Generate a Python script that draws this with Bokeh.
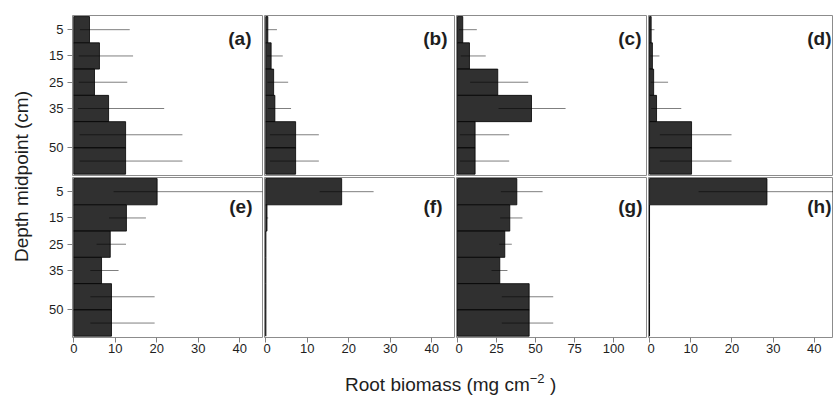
from math import pi
from bokeh.plotting import figure
from bokeh.models import Range1d, FixedTicker, Label, Div
from bokeh.layouts import gridplot, row, column
from bokeh.embed import file_html
from bokeh.resources import INLINE

# ---------------- data ----------------
depth = [5, 15, 25, 35, 45, 55]          # depth midpoints (cm)
layer = 10                                # layer thickness (cm)
y_ticks = [5, 15, 25, 35, 50]
x_ticks_std = [0, 10, 20, 30, 40]
x_ticks_wide = [0, 25, 50, 75, 100]
panel_names = ["(a)", "(b)", "(c)", "(d)", "(e)", "(f)", "(g)", "(h)"]

a_mean = [3.8, 6.2, 5.0, 8.4, 12.5, 12.5]
a_lo = [1.5, 1.2, 1.2, 1.0, 1.4, 1.4]
a_hi = [13.5, 14.3, 12.9, 21.8, 26.2, 26.2]

b_mean = [0.5, 1.3, 1.9, 2.2, 7.2, 7.2]
b_lo = [0.1, 0.3, 0.4, 0.5, 1.0, 1.0]
b_hi = [2.7, 4.1, 5.4, 6.1, 12.8, 12.8]

c_mean = [3.4, 7.7, 25.8, 47.4, 11.3, 11.3]
c_lo = [1.0, 2.1, 8.1, 26.3, 1.5, 1.5]
c_hi = [12.4, 18.1, 45.3, 69.2, 33.1, 33.1]

d_mean = [0.4, 0.7, 1.0, 1.7, 10.2, 10.2]
d_lo = [0.1, 0.2, 0.3, 0.4, 2.5, 2.5]
d_hi = [1.2, 2.4, 4.5, 7.7, 19.9, 19.9]

e_mean = [20.1, 12.7, 8.8, 6.7, 9.1, 9.1]
e_lo = [9.6, 8.5, 5.5, 4.0, 4.0, 4.0]
e_hi = [52.0, 17.4, 12.6, 10.8, 19.5, 19.5]

f_mean = [18.3, 0.3, 0.0, 0.0, 0.0, 0.0]
f_lo = [13.0, 0.1, 0.0, 0.0, 0.0, 0.0]
f_hi = [26.0, 0.6, 0.0, 0.0, 0.0, 0.0]

g_mean = [38.0, 33.5, 30.3, 27.1, 45.9, 45.9]
g_lo = [27.8, 27.3, 26.7, 21.8, 28.4, 28.4]
g_hi = [54.5, 41.6, 34.8, 32.0, 61.3, 61.3]

h_mean = [28.5, 0.0, 0.0, 0.0, 0.0, 0.0]
h_lo = [11.9, 0.0, 0.0, 0.0, 0.0, 0.0]
h_hi = [60.0, 0.0, 0.0, 0.0, 0.0, 0.0]

# ---------------- styling ----------------
FONT = "Liberation Sans"
BAR = "#303030"
BORDER = "#8c8c8c"
TXT = "#1e1e1e"

col_frame_w = [190, 190, 190, 185]
col_xrange = [(-0.3, 45.5), (-0.3, 45.5), (-0.6, 121.0), (-0.25, 44.65)]
col_xticks = [x_ticks_std, x_ticks_std, x_ticks_wide, x_ticks_std]
col_border = [(34, 1), (1, 1), (1, 1), (1, 0)]
row_border = [(15, 1), (1, 26)]
label_px_from_right = [[11, 7, 5, 2], [10, 12, 4, 2]]
label_y = [8.5, 10.6]
y_range = (60.5, -0.4)

series = [
    [(a_mean, a_lo, a_hi), (b_mean, b_lo, b_hi), (c_mean, c_lo, c_hi), (d_mean, d_lo, d_hi)],
    [(e_mean, e_lo, e_hi), (f_mean, f_lo, f_hi), (g_mean, g_lo, g_hi), (h_mean, h_lo, h_hi)],
]


def style_axis(ax, ticks, standoff):
    ax.ticker = FixedTicker(ticks=ticks)
    ax.axis_line_color = None
    ax.major_tick_line_color = "#808080"
    ax.major_tick_out = 5
    ax.major_tick_in = 0
    ax.minor_tick_line_color = None
    ax.major_label_text_font = FONT
    ax.major_label_text_font_size = "13px"
    ax.major_label_text_color = TXT
    ax.major_label_standoff = standoff


grid_rows = []
k = 0
for r in range(2):
    figs = []
    for c in range(4):
        mean, lo, hi = series[r][c]
        x0, x1 = col_xrange[c]
        p = figure(
            frame_width=col_frame_w[c], frame_height=160,
            x_range=Range1d(x0, x1), y_range=Range1d(*y_range),
            x_axis_location="below" if r == 1 else None,
            y_axis_location="left" if c == 0 else None,
            min_border_left=col_border[c][0], min_border_right=col_border[c][1],
            min_border_top=row_border[r][0], min_border_bottom=row_border[r][1],
            output_backend="svg", toolbar_location=None,
            outline_line_color=BORDER, outline_line_width=1,
            background_fill_color="white", border_fill_color="white",
        )
        p.xgrid.grid_line_color = None
        p.ygrid.grid_line_color = None
        if r == 1:
            style_axis(p.xaxis[0], col_xticks[c], 1)
        if c == 0:
            style_axis(p.yaxis[0], y_ticks, 4)

        p.hbar(y=depth, left=0, right=mean, height=layer,
               fill_color=BAR, line_color="#000000", line_width=0.8)
        p.segment(x0=lo, x1=hi, y0=depth, y1=depth,
                  line_color="#000000", line_alpha=0.5, line_width=1)

        scale = col_frame_w[c] / (x1 - x0)
        lx = x1 - label_px_from_right[r][c] / scale
        p.add_layout(Label(x=lx, y=label_y[r], text=panel_names[k],
                           text_font=FONT, text_font_style="bold",
                           text_font_size="19px", text_color=TXT,
                           text_align="right", text_baseline="middle"))
        figs.append(p)
        k += 1
    grid_rows.append(figs)

grid = gridplot(grid_rows, toolbar_location=None)

grid_h = sum(t + 160 + b for t, b in row_border)
ylab_w = 38
ylab = figure(width=ylab_w, height=grid_h, x_range=Range1d(0, ylab_w), y_range=Range1d(0, grid_h),
              x_axis_location=None, y_axis_location=None, min_border=0,
              output_backend="svg", toolbar_location=None, outline_line_color=None)
ylab.xgrid.grid_line_color = None
ylab.ygrid.grid_line_color = None
ylab.add_layout(Label(x=21, y=grid_h - 176, text="Depth midpoint (cm)", angle=pi / 2,
                      text_font=FONT, text_font_size="19px", text_color=TXT,
                      text_align="center", text_baseline="middle"))

grid_w = sum(col_frame_w) + sum(l + rr for l, rr in col_border)
xlab = Div(
    text=('<div style="margin-left:302px; margin-top:6px; font-family:\'Liberation Sans\'; '
          'font-size:19px; line-height:22px; color:#1e1e1e; white-space:nowrap;">'
          'Root biomass (mg cm<sup style="font-size:13px; vertical-align:8px; line-height:0;">'
          '\u22122</sup> )</div>'),
    width=grid_w, height=396 - grid_h,
)

layout = row(ylab, column(grid, xlab))
open("out.html", "w").write(file_html(layout, INLINE))
